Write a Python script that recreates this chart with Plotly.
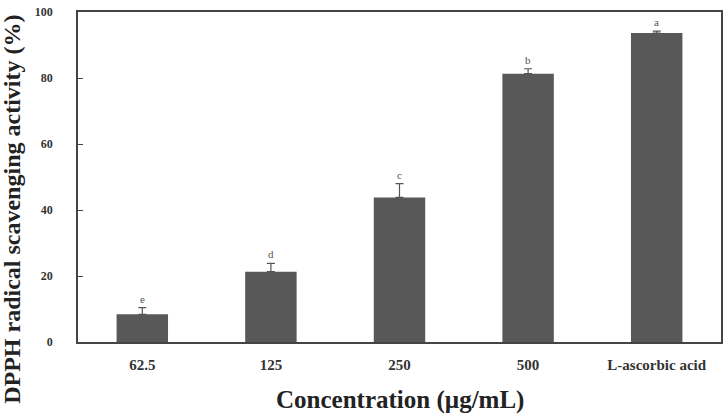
import plotly.graph_objects as go

categories = ["62.5", "125", "250", "500", "L-ascorbic acid"]
values = [8.4, 21.3, 43.8, 81.3, 93.6]
errors = [2.0, 2.5, 4.2, 1.5, 0.6]
letters = ["e", "d", "c", "b", "a"]

FONT = "Liberation Serif"
fig = go.Figure()
fig.add_trace(go.Bar(
    x=categories, y=values, width=0.4,
    marker=dict(color="#585858", line=dict(width=0)),
    error_y=dict(type="data", array=errors, arrayminus=[0]*len(errors), symmetric=False,
                 color="#555555", thickness=1.2, width=4),
))
for i, (v, e, l) in enumerate(zip(values, errors, letters)):
    fig.add_annotation(x=i, y=v + e, text=l, showarrow=False, yanchor="bottom", yshift=1,
                       font=dict(family=FONT, size=11, color="#555555"))

fig.add_annotation(xref="paper", yref="paper", x=-0.1026, y=0.4006, textangle=-90,
                   text="<b>DPPH radical scavenging activity (%)</b>", showarrow=False,
                   xanchor="center", yanchor="middle",
                   font=dict(family=FONT, size=24, color="#222222"))
fig.add_annotation(xref="paper", yref="paper", x=0.5, y=-0.175,
                   text="<b>Concentration (µg/mL)</b>", showarrow=False,
                   xanchor="center", yanchor="middle",
                   font=dict(family=FONT, size=25, color="#222222"))

fig.update_layout(
    width=728, height=414,
    margin=dict(l=78, r=7, t=5, b=72),
    plot_bgcolor="white", paper_bgcolor="white",
    showlegend=False, bargap=0.6,
    font=dict(family=FONT, color="#333333"),
)
fig.update_xaxes(
    type="category", range=[-0.5, 4.5], showline=True, linecolor="#444444", linewidth=1.5, mirror=True,
    ticks="", ticklabelstandoff=8, tickfont=dict(family=FONT, size=15, color="#333333", weight="bold"),
)
fig.update_yaxes(
    range=[0, 100], dtick=20, showgrid=False, zeroline=False,
    showline=True, linecolor="#444444", linewidth=1.5, mirror=True,
    ticks="inside", ticklen=5, tickcolor="#444444", ticklabelstandoff=21,
    tickfont=dict(family=FONT, size=12, color="#333333", weight="bold"),
)
fig.write_html("out.html")
